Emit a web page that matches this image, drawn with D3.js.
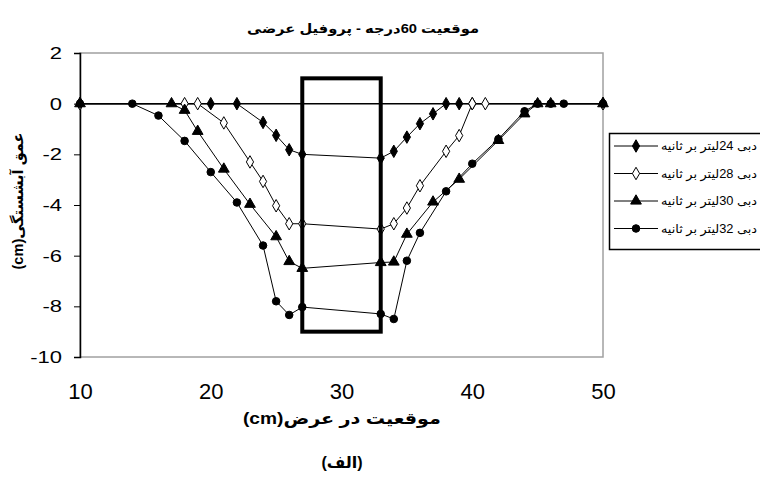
<!DOCTYPE html>
<html>
<head>
<meta charset="utf-8">
<script src="https://cdn.jsdelivr.net/npm/d3@7"></script>
<style>
    body { margin: 0; background: #fff; }
    svg { font-family: "Liberation Sans", "DejaVu Sans", sans-serif; }
</style>
</head>
<body>
<div id="plot-container"></div>
<script>
// each series: [position across width (cm), scour depth (cm)]
const q24 = [[10, 0], [20, 0], [22, 0], [24, -0.74], [25, -1.25], [26, -1.82], [27, -2.0], [33, -2.15],
    [34, -1.88], [35, -1.32], [36, -0.79], [37, -0.4], [38, 0], [39, 0], [40, 0], [50, 0]];
const q28 = [[10, 0], [18, 0], [19, 0], [21, -0.76], [23, -2.3], [24, -3.07], [25, -4.03], [26, -4.74],
    [27, -4.74], [33, -4.95], [34, -4.74], [35, -4.12], [36, -3.24], [38, -1.88], [39, -1.26], [40, 0], [41, 0], [50, 0]];
const q30 = [[10, 0], [17, 0], [18, -0.26], [19, -1.09], [21, -2.58], [23, -3.97], [25, -5.25], [26, -6.23],
    [27, -6.5], [33, -6.27], [34, -6.25], [35, -5.15], [37, -3.88], [39, -2.98], [42, -1.45], [44, -0.4], [45, 0], [46, 0], [50, 0]];
const q32 = [[10, 0], [14, 0], [16, -0.47], [18, -1.47], [20, -2.7], [22, -3.9], [24, -5.6], [25, -7.8],
    [26, -8.34], [27, -8.03], [33, -8.3], [34, -8.5], [35, -6.2], [36, -5.1], [38, -3.46], [40, -2.37],
    [42, -1.4], [44, -0.3], [45, 0], [46, 0], [47, 0], [50, 0]];

const seriesNames = ["دبی 24لیتر بر ثانیه", "دبی 28لیتر بر ثانیه", "دبی 30لیتر بر ثانیه", "دبی 32لیتر بر ثانیه"];
const xTicks = [10, 20, 30, 40, 50];
const yTicks = [2, 0, -2, -4, -6, -8, -10];
// pier outline drawn on the chart (cm)
const pierX = [27, 33];
const pierY = [1, -9];

const titleText = "موقعیت  60درجه - پروفیل عرضی";
const xLabel = "موقعیت در عرض(cm)";
const yLabel = "عمق آبشستگی(cm)";
const subLabel = "(الف)";

const width = 760, height = 484;
const plot = { left: 80, right: 603, top: 53, bottom: 357 };

const svg = d3.select("#plot-container")
    .append("svg")
    .attr("width", width)
    .attr("height", height);

const xScale = d3.scaleLinear().domain([10, 50]).range([plot.left, plot.right]);
const yScale = d3.scaleLinear().domain([-10, 2]).range([plot.bottom, plot.top]);

// plot area frame (grey)
svg.append("rect")
    .attr("x", plot.left)
    .attr("y", plot.top)
    .attr("width", plot.right - plot.left)
    .attr("height", plot.bottom - plot.top)
    .attr("fill", "none")
    .attr("stroke", "#a0a0a0")
    .attr("stroke-width", 1.5);

// y axis
const yAxis = svg.append("g")
    .attr("transform", "translate(" + plot.left + ",0)")
    .call(d3.axisLeft(yScale).tickValues(yTicks).tickSize(6).tickPadding(12).tickFormat(d => String(d)));
yAxis.select(".domain").attr("stroke-width", 1.5);
yAxis.selectAll("text")
    .attr("font-size", 22)
    .attr("fill", "#000")
    .attr("transform", "scale(1,0.78)");

// x axis line crosses at y = 0, labels sit at the bottom
svg.append("line")
    .attr("x1", xScale(10)).attr("x2", xScale(50))
    .attr("y1", yScale(0)).attr("y2", yScale(0))
    .attr("stroke", "#000")
    .attr("stroke-width", 1.5);

const xAxis = svg.append("g")
    .attr("transform", "translate(0," + plot.bottom + ")")
    .call(d3.axisBottom(xScale).tickValues(xTicks).tickSize(0).tickPadding(26).tickFormat(d => String(d)));
xAxis.select(".domain").remove();
xAxis.selectAll("text").attr("font-size", 22).attr("fill", "#000");

const symbols = [d3.symbolDiamond, d3.symbolDiamond, d3.symbolTriangle, d3.symbolCircle];
const fills = ["#000", "#fff", "#000", "#000"];
const sizes = [45, 45, 50, 45];
const allSeries = [q24, q28, q30, q32];

const line = d3.line()
    .x(d => xScale(d[0]))
    .y(d => yScale(d[1]));

allSeries.forEach(function(data) {
    svg.append("path")
        .datum(data)
        .attr("fill", "none")
        .attr("stroke", "#000")
        .attr("stroke-width", 1)
        .attr("d", line);
});

allSeries.forEach(function(data, i) {
    svg.append("g").selectAll("path")
        .data(data)
        .enter()
        .append("path")
        .attr("transform", d => "translate(" + xScale(d[0]) + "," + yScale(d[1]) + ")")
        .attr("d", d3.symbol().type(symbols[i]).size(sizes[i]))
        .attr("fill", fills[i])
        .attr("stroke", "#000")
        .attr("stroke-width", 1);
});

// pier box
svg.append("rect")
    .attr("x", xScale(pierX[0]))
    .attr("y", yScale(pierY[0]))
    .attr("width", xScale(pierX[1]) - xScale(pierX[0]))
    .attr("height", yScale(pierY[1]) - yScale(pierY[0]))
    .attr("fill", "none")
    .attr("stroke", "#000")
    .attr("stroke-width", 4);

// legend box runs off the right edge like the original
const legend = svg.append("g");
legend.append("rect")
    .attr("x", 609.5)
    .attr("y", 133.5)
    .attr("width", 200)
    .attr("height", 116)
    .attr("fill", "#fff")
    .attr("stroke", "#000")
    .attr("stroke-width", 1.5);

seriesNames.forEach(function(name, i) {
    const y = 146 + i * 27.5;
    legend.append("line")
        .attr("x1", 614).attr("x2", 658)
        .attr("y1", y).attr("y2", y)
        .attr("stroke", "#000")
        .attr("stroke-width", 1);
    legend.append("path")
        .attr("transform", "translate(636," + y + ")")
        .attr("d", d3.symbol().type(symbols[i]).size(sizes[i]))
        .attr("fill", fills[i])
        .attr("stroke", "#000");
    legend.append("text")
        .attr("x", 661)
        .attr("y", y + 4)
        .attr("direction", "rtl")
        .attr("text-anchor", "end")
        .attr("font-size", 12)
        .attr("textLength", 96)
        .attr("lengthAdjust", "spacingAndGlyphs")
        .text(name);
});

// titles
svg.append("text")
    .attr("x", 363)
    .attr("y", 33)
    .attr("text-anchor", "middle")
    .attr("font-size", 13)
    .attr("font-weight", "bold")
    .attr("direction", "rtl")
    .attr("textLength", 232)
    .attr("lengthAdjust", "spacingAndGlyphs")
    .text(titleText);

svg.append("text")
    .attr("x", 342)
    .attr("y", 424)
    .attr("text-anchor", "middle")
    .attr("font-size", 16)
    .attr("font-weight", "bold")
    .attr("direction", "rtl")
    .attr("textLength", 198)
    .attr("lengthAdjust", "spacingAndGlyphs")
    .text(xLabel);

svg.append("text")
    .attr("transform", "translate(23,201) rotate(-90)")
    .attr("text-anchor", "middle")
    .attr("font-size", 15)
    .attr("font-weight", "bold")
    .attr("direction", "rtl")
    .attr("textLength", 137)
    .attr("lengthAdjust", "spacingAndGlyphs")
    .text(yLabel);

svg.append("text")
    .attr("x", 342)
    .attr("y", 468)
    .attr("text-anchor", "middle")
    .attr("font-size", 16)
    .attr("font-weight", "bold")
    .attr("direction", "rtl")
    .text(subLabel);
</script>
</body>
</html>
